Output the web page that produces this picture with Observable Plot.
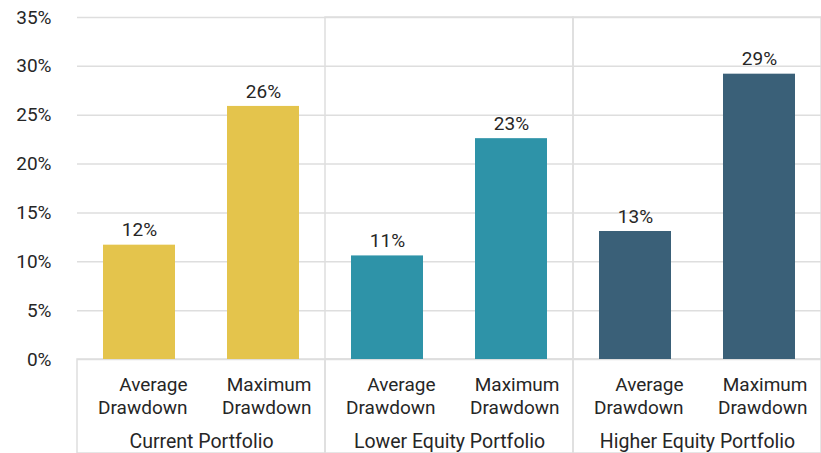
<!DOCTYPE html>
<html>
<head>
<meta charset="utf-8">
<script src="https://cdn.jsdelivr.net/npm/d3@7"></script>
<script src="https://cdn.jsdelivr.net/npm/@observablehq/plot@0.6"></script>
<style>
  html, body { margin: 0; padding: 0; background: #fff; }
  #chart svg { display: block; }
</style>
</head>
<body>
<div id="chart"></div>
<script>
// ---- data ----
const groups = ["Current Portfolio", "Lower Equity Portfolio", "Higher Equity Portfolio"];
const metrics = ["Average Drawdown", "Maximum Drawdown"];
const metricLabels = ["Average\nDrawdown", "Maximum\nDrawdown"];
const averageDrawdown = [11.7, 10.6, 13.1];
const maximumDrawdown = [25.9, 22.6, 29.2];
const yTicks = [0, 5, 10, 15, 20, 25, 30, 35];
const groupColors = ["#E4C44C", "#2E93A8", "#3A6078"];

// ---- table ----
const rows = [];
groups.forEach((g, i) => {
  rows.push({group: g, metric: metrics[0], value: averageDrawdown[i]});
  rows.push({group: g, metric: metrics[1], value: maximumDrawdown[i]});
});
const labelOf = Object.fromEntries(metrics.map((m, i) => [m, metricLabels[i]]));
const gridColor = "#dedede";
const textColor = "#262626";
const font = "Roboto, 'DejaVu Sans', sans-serif";

const chart = Plot.plot({
  width: 821,
  height: 453,
  marginTop: 17,
  marginBottom: 94,
  marginLeft: 76,
  marginRight: 0,
  style: {fontFamily: font, fontSize: "19px", color: textColor, background: "#fff"},
  fx: {domain: groups, padding: 0, axis: null},
  x: {domain: metrics, paddingInner: 0.42, paddingOuter: 0.21, axis: null},
  y: {domain: [0, 35], ticks: yTicks, tickFormat: d => d + "%", tickSize: 0, tickPadding: 26, label: null},
  color: {domain: groups, range: groupColors},
  marks: [
    Plot.ruleY(yTicks, {stroke: gridColor, strokeWidth: 1.5}),
    // separators in the label area below the bars (all groups)
    Plot.rect(groups, {fx: d => d, y1: 0, y2: 0, insetBottom: -94, fill: "none", stroke: gridColor, strokeWidth: 1.5}),
    // separators between groups in the plotting area
    Plot.rect(groups.slice(1), {fx: d => d, y1: 0, y2: 35, fill: "none", stroke: gridColor, strokeWidth: 1.5}),
    Plot.barY(rows, {fx: "group", x: "metric", y: "value", fill: "group"}),
    Plot.text(rows, {fx: "group", x: "metric", y: "value", text: d => Math.round(d.value) + "%",
      dy: -15, fill: textColor, fontSize: 19}),
    Plot.text(rows, {fx: "group", x: "metric", text: d => labelOf[d.metric], frameAnchor: "bottom",
      lineAnchor: "middle", textAnchor: "end", dx: 48, dy: 36, lineHeight: 1.2, fill: textColor, fontSize: 19}),
    Plot.text(groups, {fx: d => d, text: d => d, frameAnchor: "bottom", lineAnchor: "middle",
      dy: 82, fill: textColor, fontSize: 19.5})
  ]
});
document.getElementById("chart").appendChild(chart);
</script>
</body>
</html>
